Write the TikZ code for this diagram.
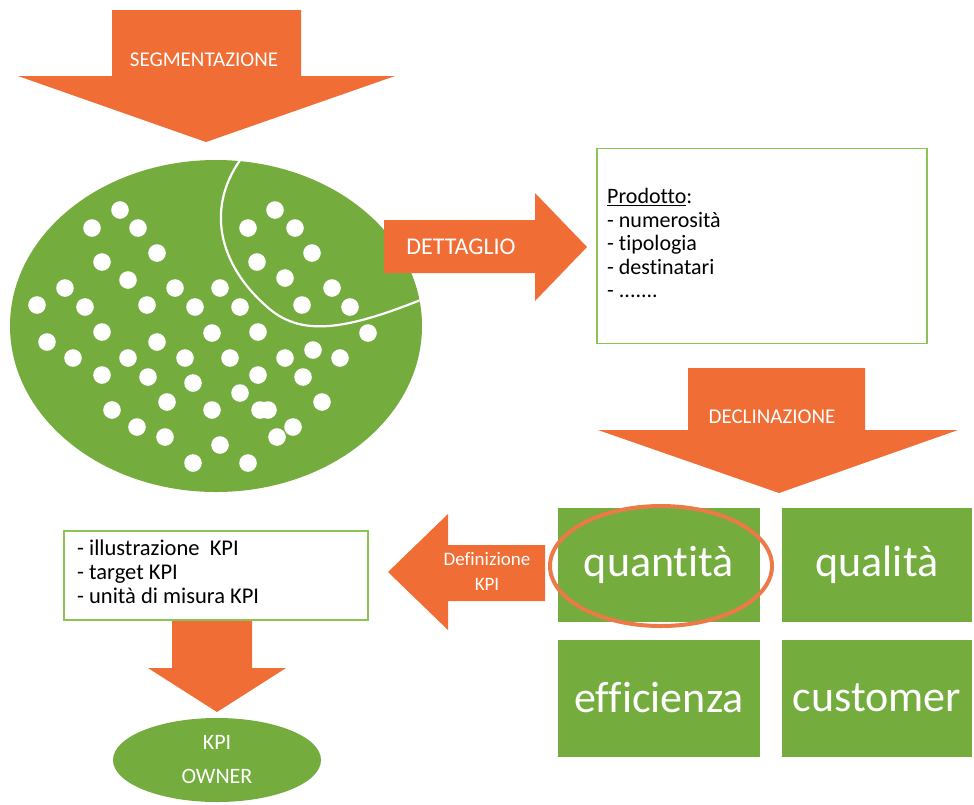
\documentclass[tikz,border=0pt]{standalone}
\usepackage{fontspec}
\setmainfont[Ligatures=NoCommon]{Carlito}
\usetikzlibrary{shapes.geometric}
\definecolor{arrorange}{RGB}{240,110,54}
\definecolor{leafgreen}{RGB}{116,172,62}
\definecolor{rimgreen}{RGB}{140,195,85}
\definecolor{ringorange}{RGB}{236,122,72}
\newcommand\etcdots{.......}
\tikzstyle{bigarrow}=[fill=arrorange]
\tikzstyle{arrowtext}=[white,inner sep=0pt,align=center,font=\fontsize{21}{25}\selectfont]
\tikzstyle{kpibox}=[fill=leafgreen,inner sep=0pt,text=white,font=\fontsize{44}{50}\selectfont]
\tikzstyle{listbox}=[draw=rimgreen,line width=1.5pt,fill=white]
\tikzstyle{listtext}=[black,inner sep=0pt,font=\fontsize{22}{24}\selectfont]
\tikzstyle{seed}=[fill=white]

\begin{document}
\begin{tikzpicture}[x=1pt,y=-1pt]
	\useasboundingbox[fill=white] (0,0) rectangle (974,804);
	% top arrow
	\fill[bigarrow] (112,10) -- (301,10) -- (301,76) -- (395,76) -- (206,142) -- (18,76) -- (112,76) -- cycle;
	\node[arrowtext] (segtext) at (204,60) {SEGMENTAZIONE};
	%
	\node[ellipse,fill=leafgreen,minimum width=412,minimum height=332,inner sep=0pt] (crowd) at (216,326) {};
	\begin{scope}
		\clip (216,326) ellipse [x radius=206,y radius=166];
		\foreach \px/\py in {120/210,92/228,138/228,157/253,102/262,128/280,65/288,175/288,220/288,
			37/305,85/307,147/305,195/307,240/307,102/332,157/342,212/333,258/332,47/342,
			73/358,128/358,185/358,230/358,285/358,313/350,340/358,102/375,148/377,193/383,
			258/375,303/377,240/393,167/402,322/402,112/410,212/410,260/410,268/410,137/427,
			165/437,277/437,293/427,220/445,193/463,248/463,
			275/210,248/228,295/228,312/253,257/262,285/278,332/288,302/305,350/307,368/333}
			\fill[seed] (\px,\py) circle [radius=8.8];
		\draw[white,line width=2.2pt] (248,150) .. controls (205,200) and (215,260) .. (265,305)
			.. controls (300,338) and (345,332) .. (440,292);
	\end{scope}
	%
	\fill[bigarrow] (384,220) -- (535,220) -- (535,193) -- (587,247) -- (535,301) -- (535,273) -- (384,273) -- cycle;
	\node[arrowtext,font=\fontsize{24}{28}\selectfont] (dettext) at (461,247) {DETTAGLIO};
	%
	\node[listbox,minimum width=330,minimum height=195,inner sep=0pt] (prodbox) at (762,246) {};
	\foreach \txt [count=\i] in {{\underline{Prodotto}:},{- numerosità},{- tipologia},{- destinatari},{- \etcdots}}
		\node[listtext,anchor=base west] (prod\i) at (607,180+23.5*\i) {\txt};
	%
	\fill[bigarrow] (688,368) -- (865,368) -- (865,430) -- (958,430) -- (779,493) -- (598,430) -- (688,430) -- cycle;
	\node[arrowtext] (decltext) at (772,417) {DECLINAZIONE};
	%
	\node[kpibox,minimum width=202,minimum height=114] (quantita) at (659,565) {quantità};
	\node[kpibox,minimum width=190,minimum height=114] (qualita) at (877,565) {qualità};
	\node[kpibox,minimum width=202,minimum height=117] (efficienza) at (659,698) {efficienza};
	\node[kpibox,minimum width=190,minimum height=117] (customer) at (877,698) {customer};
	\node[ellipse,draw=ringorange,line width=4pt,minimum width=222,minimum height=120] (ring) at (661,566) {};
	%
	\fill[bigarrow] (545,545) -- (448,545) -- (448,514) -- (388,572) -- (448,630) -- (448,601) -- (545,601) -- cycle;
	\node[arrowtext,font=\fontsize{19}{25}\selectfont] (deftext) at (487,571) {Definizione\\KPI};
	%
	\node[listbox,minimum width=304,minimum height=89,inner sep=0pt] (kpibox) at (216,575.5) {};
	\foreach \txt [count=\i] in {{- illustrazione\ \ KPI},{- target KPI},{- unità di misura KPI}}
		\node[listtext,anchor=base west,font=\fontsize{22.5}{24}\selectfont] (kpi\i) at (77,531+24*\i) {\txt};
	%
	\fill[bigarrow] (172,621) -- (252,621) -- (252,668) -- (286,668) -- (217,712) -- (148,668) -- (172,668) -- cycle;
	\node[ellipse,fill=leafgreen,minimum width=208,minimum height=84,inner sep=0pt,text=white,align=center,
		font=\fontsize{22}{34}\selectfont] (owner) at (217,760) {KPI\\OWNER};
\end{tikzpicture}
\end{document}
